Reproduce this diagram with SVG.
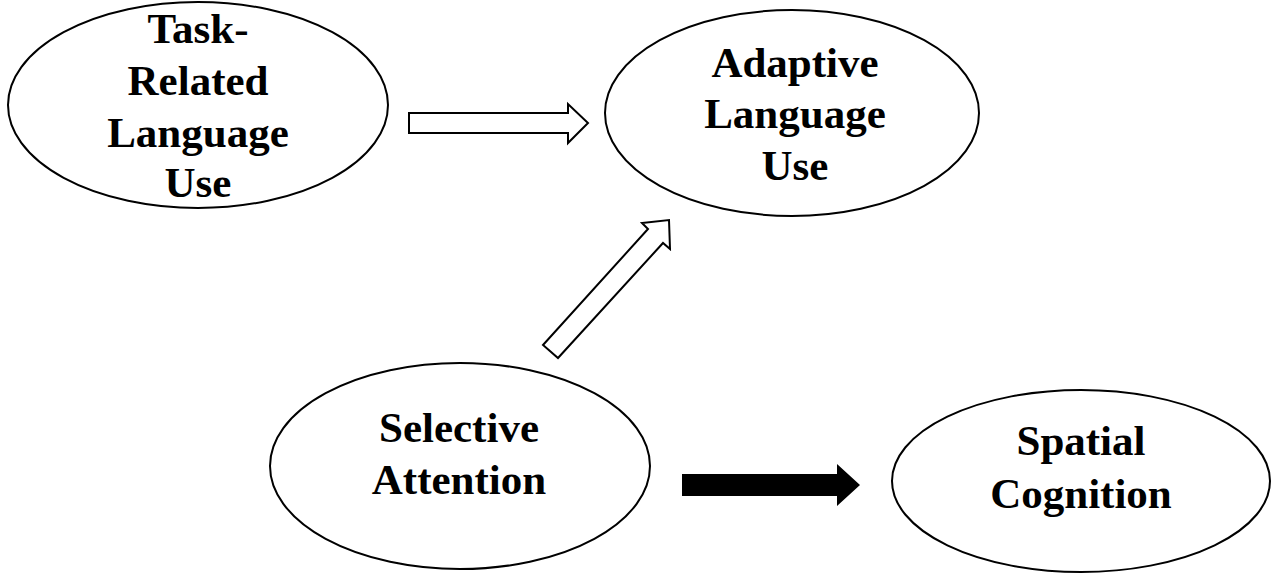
<svg xmlns="http://www.w3.org/2000/svg" width="1280" height="574" viewBox="0 0 1280 574">
<style>
.node{fill:#fff;stroke:#000;stroke-width:2}
.lbl{font-family:"Liberation Serif","Times New Roman",serif;font-weight:bold;font-size:43px;fill:#000;text-anchor:middle}
.hollow{fill:#fff;stroke:#000;stroke-width:2;stroke-linejoin:miter}
.solid{fill:#000;stroke:none}
</style>
<rect width="1280" height="574" fill="#fff"/>
<g id="task-related">
<ellipse class="node" cx="198" cy="105" rx="190" ry="103"/>
<text class="lbl" x="198" y="43">Task-</text>
<text class="lbl" x="198" y="95">Related</text>
<text class="lbl" x="198" y="147">Language</text>
<text class="lbl" x="198" y="197">Use</text>
</g>
<g id="adaptive">
<ellipse class="node" cx="792" cy="113" rx="187" ry="103"/>
<text class="lbl" x="795" y="77">Adaptive</text>
<text class="lbl" x="795" y="128">Language</text>
<text class="lbl" x="795" y="180">Use</text>
</g>
<g id="selective">
<ellipse class="node" cx="460" cy="466" rx="190" ry="103"/>
<text class="lbl" x="459" y="442">Selective</text>
<text class="lbl" x="459" y="494">Attention</text>
</g>
<g id="spatial">
<ellipse class="node" cx="1081" cy="481" rx="189" ry="91"/>
<text class="lbl" x="1081" y="455">Spatial</text>
<text class="lbl" x="1081" y="508">Cognition</text>
</g>
<g id="connectors">
<polygon class="hollow" points="409,113 568,113 568,104 588,123 568,143 568,133 409,133"/>
<polygon class="hollow" points="543,345 648,229 642,223 669,220 670,249 663,243 558,358"/>
<polygon class="solid" points="682,474 837,474 837,464 860,485 837,506 837,496 682,496"/>
</g>
</svg>
